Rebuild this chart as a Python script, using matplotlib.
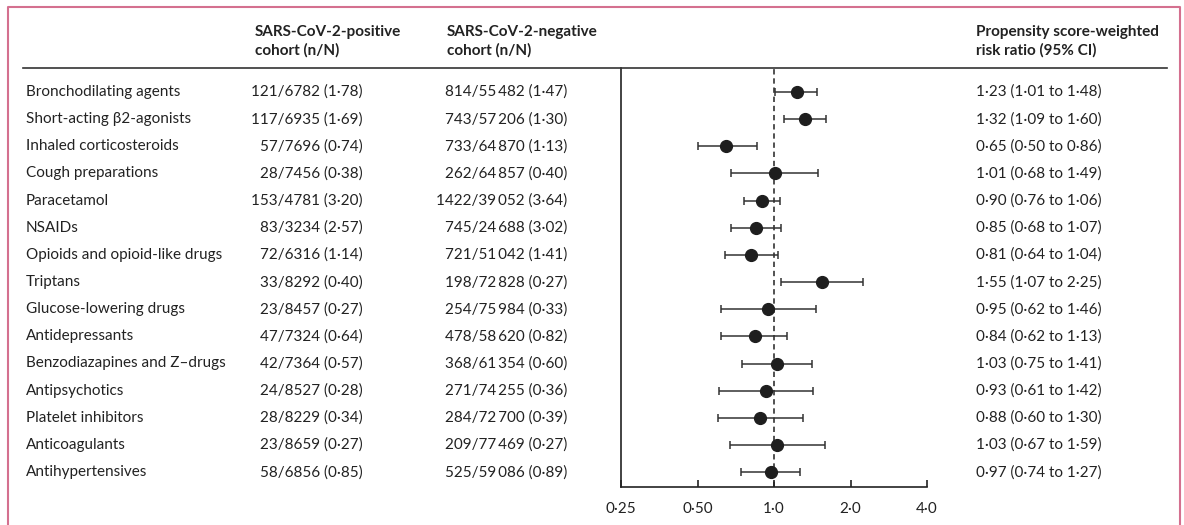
import matplotlib
matplotlib.use("Agg")
import matplotlib.pyplot as plt
from matplotlib.lines import Line2D
from matplotlib.transforms import blended_transform_factory

plt.rcParams['font.family'] = ['Lato', 'DejaVu Sans']

TS = "\u2009"  # thin space used as thousands separator

drugs = [
    "Bronchodilating agents", "Short-acting β2-agonists", "Inhaled corticosteroids",
    "Cough preparations", "Paracetamol", "NSAIDs", "Opioids and opioid-like drugs",
    "Triptans", "Glucose-lowering drugs", "Antidepressants",
    "Benzodiazapines and Z–drugs", "Antipsychotics", "Platelet inhibitors",
    "Anticoagulants", "Antihypertensives",
]
pos_n = [121, 117, 57, 28, 153, 83, 72, 33, 23, 47, 42, 24, 28, 23, 58]
pos_N = [6782, 6935, 7696, 7456, 4781, 3234, 6316, 8292, 8457, 7324, 7364, 8527, 8229, 8659, 6856]
pos_pct = [1.78, 1.69, 0.74, 0.38, 3.20, 2.57, 1.14, 0.40, 0.27, 0.64, 0.57, 0.28, 0.34, 0.27, 0.85]
neg_n = [814, 743, 733, 262, 1422, 745, 721, 198, 254, 478, 368, 271, 284, 209, 525]
neg_N = [55482, 57206, 64870, 64857, 39052, 24688, 51042, 72828, 75984, 58620, 61354, 74255, 72700, 77469, 59086]
neg_pct = [1.47, 1.30, 1.13, 0.40, 3.64, 3.02, 1.41, 0.27, 0.33, 0.82, 0.60, 0.36, 0.39, 0.27, 0.89]
rr = [1.23, 1.32, 0.65, 1.01, 0.90, 0.85, 0.81, 1.55, 0.95, 0.84, 1.03, 0.93, 0.88, 1.03, 0.97]
rr_lo = [1.01, 1.09, 0.50, 0.68, 0.76, 0.68, 0.64, 1.07, 0.62, 0.62, 0.75, 0.61, 0.60, 0.67, 0.74]
rr_hi = [1.48, 1.60, 0.86, 1.49, 1.06, 1.07, 1.04, 2.25, 1.46, 1.13, 1.41, 1.42, 1.30, 1.59, 1.27]
xticks = [0.25, 0.5, 1.0, 2.0, 4.0]
xticklabels = ["0·25", "0·50", "1·0", "2·0", "4·0"]

headers = ["SARS-CoV-2-positive\ncohort (n/N)", "SARS-CoV-2-negative\ncohort (n/N)",
           "Propensity score-weighted\nrisk ratio (95% CI)"]


def fmt_num(v):
    s = str(v)
    if len(s) > 4:
        s = s[:-3] + TS + s[-3:]
    return s


def dec(v):
    return f"{v:.2f}".replace(".", "·")


W, H = 1184, 525
fig = plt.figure(figsize=(W / 100, H / 100), dpi=100)
fig.patch.set_facecolor("white")

ax_l, ax_r, ax_t, ax_b = 621, 927, 68, 487
ax = fig.add_axes([ax_l / W, 1 - ax_b / H, (ax_r - ax_l) / W, (ax_b - ax_t) / H])

row0, dy = 92, 27.15
n = len(drugs)
ax.set_ylim((ax_b - row0) / dy, (ax_t - row0) / dy)
ax.set_xscale("log", base=2)
ax.set_xlim(0.25, 4.0)
ax.set_xticks(xticks)
ax.set_xticklabels(xticklabels)
ax.xaxis.set_minor_locator(matplotlib.ticker.NullLocator())
ax.set_yticks([])
for s in ["top", "right"]:
    ax.spines[s].set_visible(False)
for s in ["left", "bottom"]:
    ax.spines[s].set_linewidth(1.2)
    ax.spines[s].set_color("#222222")
fs = 11
tc = "#222222"
ax.tick_params(axis="x", direction="in", length=5, width=1.2, color="#222222",
               labelsize=fs, labelcolor=tc, pad=11)

ax.axvline(1.0, color="#222222", lw=1.1, ls=(0, (3.5, 2.5)), zorder=1)

ys = list(range(n))
xerr = [[r - lo for r, lo in zip(rr, rr_lo)], [hi - r for r, hi in zip(rr, rr_hi)]]
ax.errorbar(rr, ys, xerr=xerr, fmt="o", color="#1e1e1e", ecolor="#333333",
            elinewidth=1.1, capsize=2.8, capthick=1.1, markersize=8.5, zorder=3)

tr = blended_transform_factory(fig.transFigure, ax.transData)
for i in range(n):
    ax.text(26 / W, i, drugs[i], transform=tr, ha="left", va="center", fontsize=fs, color=tc)
    ax.text(363 / W, i, f"{fmt_num(pos_n[i])}/{fmt_num(pos_N[i])} ({dec(pos_pct[i])})",
            transform=tr, ha="right", va="center", fontsize=fs, color=tc)
    ax.text(567 / W, i, f"{fmt_num(neg_n[i])}/{fmt_num(neg_N[i])} ({dec(neg_pct[i])})",
            transform=tr, ha="right", va="center", fontsize=fs, color=tc)
    ax.text(976 / W, i, f"{dec(rr[i])} ({dec(rr_lo[i])} to {dec(rr_hi[i])})",
            transform=tr, ha="left", va="center", fontsize=fs, color=tc)

hx = [255, 447, 976]
for x, h in zip(hx, headers):
    fig.text(x / W, 1 - 41.5 / H, h, ha="left", va="center", fontsize=fs,
             fontweight="bold", color=tc, linespacing=1.33)

# header rule
fig.add_artist(Line2D([23 / W, 1167 / W], [1 - 68 / H, 1 - 68 / H],
                      transform=fig.transFigure, color="#333333", lw=1.2))

# pink frame
pink = "#d4708f"
fig.add_artist(Line2D([8 / W, 8 / W, 1180 / W, 1180 / W],
                      [0, 1 - 7 / H, 1 - 7 / H, 0],
                      transform=fig.transFigure, color=pink, lw=1.5))

fig.savefig("out.png", dpi=100, facecolor="white")
